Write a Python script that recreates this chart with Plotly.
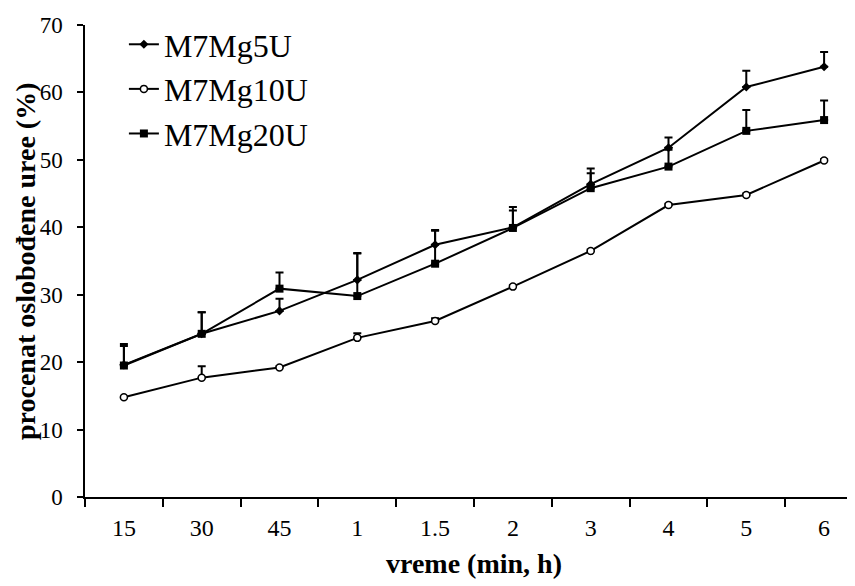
import plotly.graph_objects as go

categories = ["15", "30", "45", "1", "1.5", "2", "3", "4", "5", "6"]

m5_values = [19.6, 24.2, 27.6, 32.2, 37.4, 40.0, 46.4, 51.8, 60.8, 63.8]
m5_err = [2.8, 3.2, 1.8, 3.9, 2.1, 3.0, 2.3, 1.5, 2.4, 2.2]

m10_values = [14.8, 17.7, 19.2, 23.6, 26.1, 31.2, 36.5, 43.3, 44.8, 49.9]
m10_err = [0.0, 1.7, 0.2, 0.7, 0.4, 0.2, 0.2, 0.2, 0.2, 0.2]

m20_values = [19.5, 24.2, 30.9, 29.8, 34.6, 39.9, 45.8, 49.0, 54.3, 55.9]
m20_err = [3.2, 3.2, 2.4, 6.4, 5.0, 2.6, 2.2, 2.5, 3.1, 2.9]

names = ["M7Mg5U", "M7Mg10U", "M7Mg20U"]

FONT = "Liberation Serif, Times New Roman, serif"

def err(vals):
    return dict(type="data", array=vals, arrayminus=[0] * len(vals), symmetric=False,
                color="black", thickness=2, width=4, visible=True)

fig = go.Figure()
fig.add_trace(go.Scatter(
    x=categories, y=m5_values, name=names[0], mode="lines+markers",
    line=dict(color="black", width=2),
    marker=dict(symbol="diamond", size=7, color="black"),
    error_y=err(m5_err), legendgroup="a"))
fig.add_trace(go.Scatter(
    x=categories, y=m10_values, name=names[1], mode="lines+markers",
    line=dict(color="black", width=2),
    marker=dict(symbol="circle", size=7, color="white", line=dict(color="black", width=1.5)),
    error_y=err(m10_err), legendgroup="b"))
fig.add_trace(go.Scatter(
    x=categories, y=m20_values, name=names[2], mode="lines+markers",
    line=dict(color="black", width=2),
    marker=dict(symbol="square", size=8, color="black"),
    error_y=err(m20_err), legendgroup="c"))

fig.update_layout(
    width=855, height=586,
    margin=dict(l=77, r=0, t=16.5, b=97),
    paper_bgcolor="white", plot_bgcolor="white",
    font=dict(family=FONT, color="black", size=24),
    showlegend=True,
    legend=dict(x=0.05, y=1.017, xanchor="left", yanchor="top",
                font=dict(family=FONT, size=32, color="black"),
                bgcolor="rgba(0,0,0,0)", tracegroupgap=0, traceorder="grouped"),
    xaxis=dict(
        type="category", range=[-0.5, 9.5], automargin=False,
        showline=True, linecolor="black", linewidth=2,
        ticks="outside", tickson="boundaries", ticklen=8, tickwidth=1.5, tickcolor="black",
        showgrid=False, zeroline=False,
        tickfont=dict(family=FONT, size=24),
        ticklabelstandoff=8,
        title=dict(text="<b>vreme (min, h)</b>", font=dict(family=FONT, size=28), standoff=14),
    ),
    yaxis=dict(
        range=[0, 70], dtick=10, tick0=0, automargin=False,
        showline=True, linecolor="black", linewidth=1.5,
        ticks="outside", ticklen=6, tickwidth=1.5, tickcolor="black",
        showgrid=False, zeroline=False,
        tickfont=dict(family=FONT, size=23),
        ticklabelstandoff=10,
    ),
    annotations=[dict(
        text="<b>procenat oslobođene uree (%)</b>", textangle=-90,
        xref="paper", yref="paper", x=0, y=0.5, xanchor="center", yanchor="middle",
        xshift=-60, showarrow=False, font=dict(family=FONT, size=28, color="black"),
    )],
)

fig.write_html("out.html")
